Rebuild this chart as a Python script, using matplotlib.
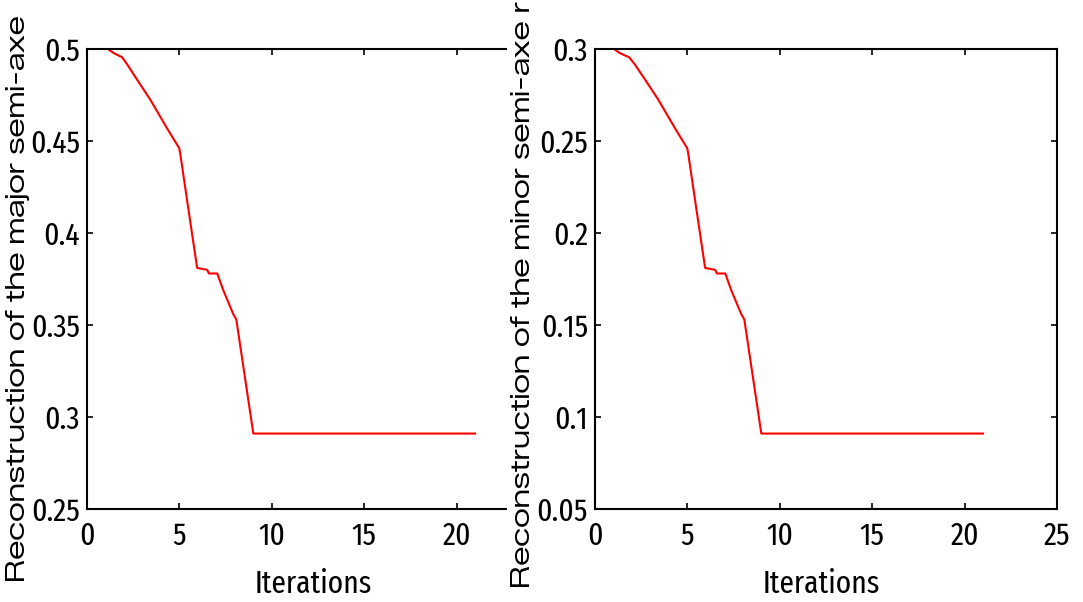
import matplotlib
matplotlib.use('Agg')
import matplotlib.pyplot as plt
from matplotlib.patches import Rectangle

# iteration trace of the two semi-axes
major_x = [1.2, 1.46, 1.68, 1.9, 2.17, 2.66, 3.41, 4.39, 4.99, 5.04, 5.5, 5.96,
           6.5, 6.6, 7.05, 7.37, 7.91, 8.08, 9.0, 21.0]
major_y = [0.4995, 0.4977, 0.4966, 0.4955, 0.4917, 0.4841, 0.4727, 0.4559,
           0.4461, 0.4435, 0.412, 0.381, 0.380, 0.378, 0.378, 0.369, 0.356,
           0.353, 0.291, 0.291]
minor_x = [1.1, 1.36, 1.6, 1.85, 2.15, 2.66, 3.41, 4.39, 4.99, 5.04, 5.5, 5.96,
           6.5, 6.6, 7.05, 7.37, 7.91, 8.08, 9.0, 21.0]
minor_y = [0.2995, 0.2977, 0.2966, 0.2955, 0.2917, 0.2841, 0.2727, 0.2559,
           0.2461, 0.2435, 0.212, 0.181, 0.180, 0.178, 0.178, 0.169, 0.156,
           0.153, 0.091, 0.091]

major_yticks = [0.25, 0.3, 0.35, 0.4, 0.45, 0.5]
major_yticklabels = ['0.25', '0.3', '0.35', '0.4', '0.45', '0.5']
minor_yticks = [0.05, 0.1, 0.15, 0.2, 0.25, 0.3]
minor_yticklabels = ['0.05', '0.1', '0.15', '0.2', '0.25', '0.3']
left_xticks = [0, 5, 10, 15, 20]
right_xticks = [0, 5, 10, 15, 20, 25]

NARROW = 'Fira Sans Extra Condensed'
WIDE = 'Zalando Sans Expanded'
TICK_FS = 23

W, H = 1083, 602
fig = plt.figure(figsize=(W / 100, H / 100), dpi=100)


def px_axes(x0, x1, y0, y1, z):
    return fig.add_axes([x0 / W, 1 - y1 / H, (x1 - x0) / W, (y1 - y0) / H], zorder=z)


def style(ax, xticks, yticks, yticklabels, ylabel, ylab_xy):
    ax.set_xlim(0, 25)
    ax.set_xticks(xticks)
    ax.set_xticklabels([str(t) for t in xticks], fontfamily=NARROW, fontsize=TICK_FS)
    ax.set_ylim(yticks[0], yticks[-1])
    ax.set_yticks(yticks)
    ax.set_yticklabels(yticklabels, fontfamily=NARROW, fontsize=TICK_FS)
    ax.tick_params(direction='in', length=4, width=1.2, top=True, right=True)
    ax.tick_params(axis='x', pad=9)
    ax.tick_params(axis='y', pad=5)
    for sp in ax.spines.values():
        sp.set_linewidth(1.5)
    ax.set_xlabel('Iterations', fontfamily=NARROW, fontsize=TICK_FS, va='baseline')
    ax.xaxis.set_label_coords(0.49, (509 - 593) / 460)
    ax.set_ylabel(ylabel, fontfamily=WIDE, fontsize=14, ha='left', va='baseline')
    ax.yaxis.set_label_coords(*ylab_xy)


ax1 = px_axes(87, 549, 49, 509, 0)
ax1.plot(major_x, major_y, '-', color='#ff0000', linewidth=1.5)
style(ax1, left_xticks, major_yticks, major_yticklabels,
      'Reconstruction of the major semi-axe',
      ((25 - 87) / 462, (509 - 582) / 460))

# white band between the two panels (right panel's label area)
fig.patches.append(Rectangle((507 / W, 0), (594 - 507) / W, 1,
                             transform=fig.transFigure, facecolor='white',
                             edgecolor='none', zorder=1))

ax2 = px_axes(595, 1057, 49, 509, 2)
ax2.plot(minor_x, minor_y, '-', color='#ff0000', linewidth=1.5)
style(ax2, right_xticks, minor_yticks, minor_yticklabels,
      'Reconstruction of the minor semi-axe r',
      ((530 - 595) / 462, (509 - 588) / 460))

# size the axis titles so the left one runs ~566 px along the spine
fig.canvas.draw()
r = fig.canvas.get_renderer()
span = ax1.yaxis.label.get_window_extent(r).height
fs = 14 * 566 / span
for ax in (ax1, ax2):
    ax.yaxis.label.set_fontsize(fs)

fig.savefig('out.png', dpi=100)
